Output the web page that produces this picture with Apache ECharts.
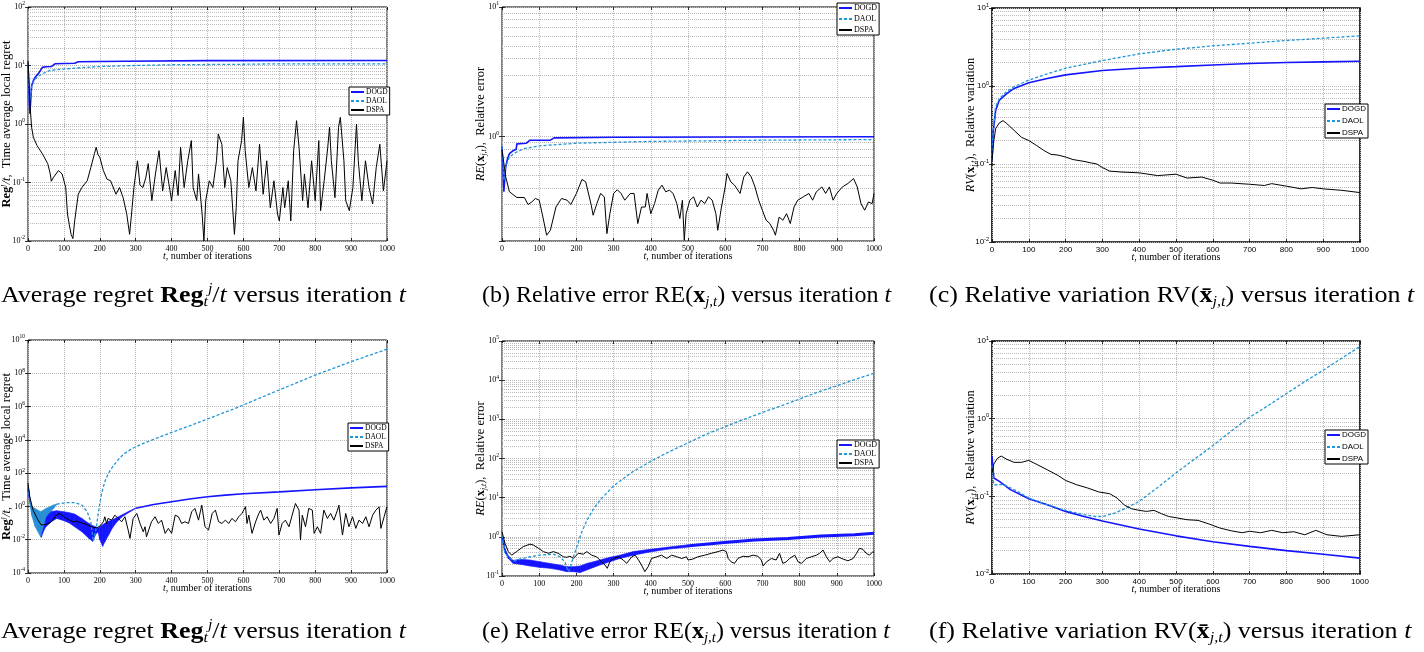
<!DOCTYPE html>
<html>
<head>
<meta charset="utf-8">
<script src="https://cdn.jsdelivr.net/npm/echarts@6/dist/echarts.min.js"></script>
<style>
  html, body { margin: 0; padding: 0; background: #fff; }
  #main { width: 1424px; height: 652px; }
</style>
</head>
<body>
<div id="main"></div>
<script>
// ---------------------------------------------------------------------
// data, [t, value]
var seriesNames = ['DOGD', 'DAOL', 'DSPA'];

// (a) time average local regret
var aDOGD = [[0,11],[3,3],[5,1.5],[8,2.8],[10,4.5],[15,5.5],[20,6.3],[25,6.8],[30,7.4],[35,7.6],[40,9.3],[50,9.5],[65,9.6],[70,10.2],[75,10.7],[100,10.8],[130,10.9],[140,11.6],[200,11.7],[270,11.8],[275,12],[500,12.1],[1000,12.2]];
var aDAOL = [[0,11],[3,4],[5,2.5],[8,3.2],[10,4.3],[15,5.2],[20,5.9],[30,6.6],[40,7.2],[60,8.2],[100,8.7],[150,9.2],[200,9.6],[300,10],[400,10.3],[600,10.5],[700,10.7],[1000,10.7]];
var aDSPA = [[0,12],[3,5],[6,2],[10,0.88],[15,0.59],[25,0.43],[40,0.31],[55,0.21],[62,0.14],[65,0.105],[70,0.12],[75,0.12],[85,0.16],[95,0.14],[100,0.14],[105,0.082],[110,0.029],[115,0.019],[120,0.013],[125,0.011],[130,0.022],[140,0.063],[150,0.082],[165,0.107],[175,0.18],[185,0.31],[190,0.4],[195,0.3],[200,0.27],[210,0.16],[220,0.114],[230,0.107],[245,0.063],[255,0.082],[265,0.055],[275,0.029],[283,0.013],[290,0.037],[295,0.082],[300,0.14],[305,0.235],[312,0.09],[320,0.082],[328,0.12],[335,0.21],[345,0.049],[355,0.14],[365,0.35],[375,0.072],[385,0.18],[400,0.049],[410,0.16],[418,0.06],[425,0.4],[435,0.082],[445,0.235],[455,0.52],[460,0.082],[470,0.049],[475,0.14],[485,0.029],[490,0.01],[495,0.049],[505,0.107],[515,0.082],[525,0.235],[530,0.67],[540,0.45],[548,0.082],[555,0.18],[565,0.107],[575,0.013],[580,0.037],[585,0.235],[595,0.52],[600,1.3],[605,0.35],[615,0.082],[625,0.18],[635,0.072],[645,0.45],[655,0.063],[665,0.235],[675,0.037],[685,0.107],[695,0.029],[700,0.022],[710,0.082],[715,0.037],[725,0.107],[732,0.022],[740,0.35],[748,1.14],[755,0.4],[765,0.049],[770,0.14],[780,0.037],[790,0.235],[800,0.049],[810,0.52],[815,0.033],[825,0.107],[835,0.4],[840,0.88],[845,0.235],[855,0.055],[865,0.88],[870,1.3],[880,0.235],[885,0.049],[895,0.033],[905,0.082],[915,1.0],[920,0.235],[930,0.049],[940,0.235],[950,0.082],[960,0.043],[970,0.18],[980,0.45],[990,0.072],[1000,0.235]];

// (b) relative error
var bDOGD = [[0,0.84],[3,0.55],[5,0.376],[8,0.5],[10,0.59],[15,0.68],[20,0.74],[30,0.78],[38,0.8],[40,0.88],[65,0.89],[75,0.94],[130,0.94],[140,0.98],[300,0.99],[1000,1.0]];
var bDAOL = [[0,0.84],[3,0.6],[5,0.46],[8,0.53],[10,0.59],[20,0.7],[40,0.765],[60,0.81],[100,0.85],[200,0.89],[400,0.92],[700,0.94],[1000,0.95]];
var bDSPA = [[0,0.79],[10,0.49],[20,0.376],[40,0.34],[60,0.34],[70,0.3],[80,0.314],[90,0.334],[100,0.324],[110,0.24],[120,0.174],[130,0.19],[145,0.287],[160,0.334],[175,0.324],[185,0.3],[200,0.365],[215,0.468],[225,0.449],[240,0.296],[245,0.248],[255,0.305],[265,0.365],[275,0.344],[282,0.179],[290,0.255],[300,0.365],[310,0.39],[320,0.365],[330,0.324],[345,0.365],[355,0.365],[365,0.214],[375,0.287],[385,0.287],[390,0.365],[400,0.255],[410,0.305],[420,0.387],[430,0.423],[440,0.376],[450,0.387],[460,0.365],[470,0.305],[478,0.234],[485,0.324],[490,0.159],[495,0.255],[505,0.324],[515,0.344],[525,0.287],[535,0.324],[545,0.305],[555,0.344],[565,0.324],[575,0.255],[580,0.19],[590,0.287],[600,0.41],[605,0.52],[615,0.449],[625,0.423],[640,0.365],[650,0.49],[660,0.536],[670,0.49],[680,0.41],[690,0.324],[700,0.271],[710,0.227],[720,0.214],[730,0.19],[735,0.174],[745,0.24],[755,0.227],[765,0.255],[775,0.214],[785,0.287],[795,0.324],[810,0.344],[825,0.365],[835,0.324],[845,0.376],[860,0.41],[870,0.365],[880,0.41],[890,0.324],[900,0.365],[915,0.41],[930,0.436],[945,0.476],[955,0.41],[965,0.305],[975,0.271],[985,0.314],[995,0.305],[1000,0.365]];

// (c) relative variation
var cDOGD = [[0,0.11],[3,0.25],[10,0.49],[20,0.66],[40,0.8],[60,0.93],[100,1.1],[150,1.25],[200,1.39],[300,1.58],[400,1.69],[500,1.77],[600,1.86],[700,1.94],[800,2.0],[900,2.04],[1000,2.08]];
var cDAOL = [[0,0.11],[3,0.27],[10,0.54],[20,0.69],[40,0.85],[60,0.98],[100,1.19],[150,1.43],[200,1.69],[300,2.12],[400,2.58],[500,2.96],[600,3.27],[700,3.54],[800,3.83],[900,4.1],[1000,4.4]];
var cDSPA = [[0,0.11],[5,0.2],[10,0.285],[20,0.337],[30,0.36],[40,0.33],[60,0.27],[80,0.22],[100,0.2],[120,0.174],[140,0.15],[160,0.133],[180,0.13],[200,0.123],[220,0.114],[250,0.108],[270,0.103],[285,0.1],[300,0.09],[320,0.081],[350,0.079],[400,0.077],[450,0.071],[500,0.074],[530,0.066],[570,0.068],[600,0.062],[620,0.057],[650,0.057],[700,0.055],[740,0.053],[760,0.056],[800,0.052],[840,0.048],[870,0.05],[900,0.048],[950,0.046],[1000,0.043]];

// (d) regret, second case. bands are [t, low, high]
var dDOGDhead = [[0,15],[5,2.4],[10,0.8]];
var dDOGDband = [[10,0.6,1.0],[20,0.15,0.6],[30,0.04,0.35],[37,0.014,0.3],[45,0.04,0.35],[50,0.06,0.42],[65,0.12,0.5],[80,0.19,0.55],[100,0.14,0.48],[115,0.1,0.42],[130,0.06,0.35],[150,0.03,0.19],[170,0.012,0.095],[180,0.008,0.07],[188,0.02,0.06],[195,0.03,0.05],[200,0.01,0.06],[208,0.004,0.08],[215,0.008,0.1],[225,0.02,0.13],[235,0.05,0.16],[245,0.1,0.2],[260,0.22,0.3],[280,0.42,0.5],[300,0.75,0.8]];
var dDOGDtail = [[300,0.78],[350,1.3],[400,1.9],[450,2.8],[500,3.8],[550,4.8],[600,5.8],[700,7.5],[800,10],[900,13],[1000,16]];
var dDAOLhead = [[0,15],[5,2]];
var dDAOLband = [[5,1.5,2.5],[10,0.3,1.0],[20,0.06,0.75],[35,0.015,0.48],[50,0.24,0.75],[70,0.7,1.2],[80,1.3,1.4]];
var dDAOLtail = [[80,1.35],[90,1.5],[110,1.7],[130,1.7],[150,1.2],[165,0.48],[175,0.12],[182,0.008],[186,0.01],[190,0.05],[195,0.3],[200,1.5],[205,6],[210,15],[215,35],[222,80],[230,160],[240,320],[255,800],[270,1600],[290,3000],[320,6000],[360,1.3e4],[400,2.8e4],[450,7e4],[500,1.8e5],[572,7e5],[700,1e7],[795,7e7],[900,5e8],[1000,2.8e9]];
var dDSPA = [[0,25],[5,3.8],[14,0.6],[28,0.15],[37,0.076],[51,0.083],[65,0.12],[79,0.3],[88,0.38],[98,0.26],[107,0.19],[116,0.15],[125,0.12],[135,0.13],[144,0.11],[154,0.095],[163,0.083],[172,0.066],[182,0.055],[191,0.052],[200,0.066],[210,0.12],[214,0.24],[219,0.095],[223,0.19],[233,0.15],[242,0.3],[251,0.19],[261,0.12],[270,0.24],[279,0.038],[284,0.012],[293,0.19],[303,0.38],[312,0.095],[321,0.03],[326,0.06],[330,0.015],[344,0.12],[354,0.24],[363,0.095],[372,0.15],[382,0.024],[391,0.048],[400,0.024],[410,0.3],[419,0.24],[428,0.095],[437,0.12],[447,0.095],[456,0.48],[465,0.76],[475,0.15],[484,1.2],[489,1.5],[493,0.06],[503,0.038],[513,0.38],[522,0.6],[531,0.12],[540,0.095],[550,0.15],[559,0.095],[568,0.19],[578,0.12],[587,0.24],[596,0.38],[606,0.97],[610,0.095],[615,0.3],[624,0.024],[634,0.12],[643,0.38],[648,0.6],[657,0.15],[666,0.24],[676,0.095],[685,0.19],[694,0.76],[699,0.019],[708,0.095],[717,0.15],[727,0.06],[741,0.76],[745,1.5],[755,0.6],[759,0.0095],[764,0.3],[773,0.06],[782,0.76],[792,0.6],[797,0.024],[806,0.06],[815,0.024],[824,0.6],[834,0.19],[843,0.38],[852,0.15],[862,0.6],[866,1.2],[876,0.019],[885,0.38],[894,0.06],[904,0.24],[913,0.048],[922,0.15],[932,0.095],[941,0.24],[950,0.06],[960,0.3],[969,0.6],[978,0.95],[983,0.048],[992,0.24],[997,0.6],[1000,1.0]];

// (e) relative error, second case
var eDOGDhead = [[0,1.0],[5,0.62]];
var eDOGDband = [[5,0.5,0.75],[8,0.4,0.5],[17,0.28,0.33],[30,0.21,0.25],[48,0.2,0.266],[75,0.18,0.256],[102,0.166,0.232],[129,0.157,0.21],[156,0.142,0.19],[174,0.129,0.173],[192,0.129,0.173],[210,0.122,0.18],[228,0.142,0.21],[246,0.166,0.232],[263,0.19,0.256],[290,0.232,0.3],[317,0.28,0.34],[353,0.34,0.42],[398,0.41,0.48],[443,0.48,0.54],[496,0.54,0.62]];
var eDOGDtail = [[496,0.58],[590,0.71],[679,0.83],[769,0.91],[858,1.05],[948,1.13],[1000,1.23]];
var eDAOL = [[0,1.1],[8,0.38],[22,0.28],[35,0.24],[48,0.27],[75,0.31],[102,0.34],[120,0.35],[138,0.36],[156,0.31],[169,0.23],[178,0.13],[183,0.16],[192,0.31],[201,0.56],[214,1.3],[228,2.6],[245,5],[265,9],[300,20],[350,45],[400,85],[450,150],[500,250],[550,420],[600,650],[650,1000],[700,1500],[750,2200],[800,3300],[850,5000],[900,7200],[950,10500],[1000,15000]];
var eDSPA = [[0,1.35],[8,0.68],[17,0.42],[26,0.34],[39,0.42],[57,0.56],[75,0.65],[84,0.62],[98,0.51],[111,0.42],[125,0.38],[138,0.42],[151,0.38],[165,0.31],[174,0.3],[183,0.32],[192,0.28],[205,0.38],[219,0.36],[228,0.42],[241,0.34],[254,0.31],[268,0.23],[277,0.19],[283,0.157],[290,0.23],[299,0.28],[313,0.31],[326,0.256],[335,0.21],[349,0.31],[358,0.34],[367,0.256],[375,0.19],[384,0.129],[393,0.173],[402,0.28],[416,0.31],[429,0.34],[443,0.28],[456,0.34],[470,0.31],[483,0.28],[496,0.31],[500,0.256],[513,0.27],[527,0.31],[545,0.34],[563,0.38],[581,0.42],[594,0.46],[603,0.42],[608,0.28],[616,0.23],[625,0.21],[634,0.28],[648,0.32],[661,0.31],[675,0.34],[688,0.32],[697,0.256],[702,0.18],[711,0.23],[724,0.28],[737,0.256],[746,0.38],[755,0.21],[764,0.23],[773,0.28],[787,0.34],[796,0.23],[805,0.21],[818,0.28],[832,0.31],[845,0.34],[854,0.38],[863,0.46],[872,0.31],[881,0.23],[890,0.28],[903,0.31],[917,0.27],[930,0.245],[944,0.28],[953,0.38],[961,0.51],[970,0.48],[979,0.38],[988,0.34],[997,0.42],[1000,0.4]];

// (f) relative variation, second case
var fDOGD = [[0,0.33],[5,0.172],[20,0.156],[50,0.122],[100,0.093],[150,0.078],[200,0.064],[250,0.055],[300,0.048],[400,0.038],[500,0.031],[600,0.026],[700,0.0227],[800,0.02],[900,0.018],[1000,0.016]];
var fDAOL = [[0,0.25],[5,0.141],[20,0.141],[30,0.143],[60,0.122],[100,0.095],[150,0.078],[200,0.066],[250,0.058],[280,0.055],[300,0.055],[330,0.06],[360,0.069],[400,0.086],[450,0.13],[500,0.2],[550,0.3],[600,0.45],[650,0.69],[694,1.0],[750,1.47],[800,2.1],[850,3.0],[900,4.2],[950,6.0],[1000,8.5]];
var fDSPA = [[0,0.2],[5,0.26],[15,0.31],[25,0.33],[40,0.3],[60,0.274],[80,0.274],[100,0.29],[120,0.26],[150,0.22],[180,0.185],[200,0.16],[230,0.141],[260,0.128],[290,0.114],[320,0.108],[340,0.095],[360,0.077],[380,0.069],[400,0.066],[420,0.064],[440,0.066],[460,0.06],[480,0.055],[500,0.053],[530,0.05],[560,0.049],[590,0.044],[620,0.039],[650,0.036],[680,0.034],[700,0.0355],[730,0.034],[760,0.0365],[790,0.034],[820,0.035],[850,0.032],[880,0.0365],[910,0.032],[950,0.0305],[1000,0.032]];

(function(){
  'use strict';

  var serif = 'Liberation Serif';
  var sans = 'Liberation Sans';
  var gridColor = '#b9b9b9';

  // 线型: DOGD / DAOL / DSPA
  var styles = [
    { color: '#1414ff', width: 1.6, type: 'solid' },
    { color: '#1f96d8', width: 1.3, type: [3, 2] },
    { color: '#000000', width: 1, type: 'solid' }
  ];
  var bandColors = ['#1414ff', '#2a8fd4'];

  var nameReg = '{b|Reg}{sup|j}{i|/t}{n|,  Time average local regret}';
  var nameRE = '{i|RE}{n|(}{b|x}{sub|j,t}{n|),  Relative error}';
  var nameRV = '{i|RV}{n|(}{b|x}{sub|j,t}{n|),  Relative variation}';
  var nameT = '{i|t}{n|, number of iterations}';

  // 各子图的布局
  var panels = [
    { grid: { left: 28, top: 7, width: 359, height: 234 }, yMin: 0.01, yMax: 100, logBase: 10, minor: true,
      tick: serif, legendFont: serif, yName: nameReg, frame: 1,
      legend: { left: 349, top: 87, gap: 1, size: 7.5 },
      lines: [[aDOGD, 0], [aDAOL, 1], [aDSPA, 2]], bands: [] },
    { grid: { left: 502, top: 7, width: 372, height: 234 }, yMin: 0.157, yMax: 10, logBase: 10, minor: true,
      tick: serif, legendFont: serif, yName: nameRE, frame: 1,
      legend: { left: 837, top: 3, gap: 3, size: 8 },
      lines: [[bDOGD, 0], [bDAOL, 1], [bDSPA, 2]], bands: [] },
    { grid: { left: 992, top: 8, width: 368, height: 234 }, yMin: 0.01, yMax: 10, logBase: 10, minor: true,
      tick: sans, legendFont: sans, yName: nameRV, frame: 1.6,
      legend: { left: 1325, top: 104, gap: 4, size: 8 },
      lines: [[cDOGD, 0], [cDAOL, 1], [cDSPA, 2]], bands: [] },
    { grid: { left: 28, top: 340, width: 359, height: 233 }, yMin: 1e-4, yMax: 1e10, logBase: 100, minor: false,
      tick: serif, legendFont: serif, yName: nameReg, frame: 1,
      legend: { left: 348, top: 423, gap: 1, size: 7.5 },
      lines: [[dDOGDhead, 0], [dDOGDtail, 0], [dDAOLhead, 1], [dDAOLtail, 1], [dDSPA, 2]],
      bands: [[dDOGDband, 0], [dDAOLband, 1]] },
    { grid: { left: 502, top: 341, width: 372, height: 235 }, yMin: 0.1, yMax: 1e5, logBase: 10, minor: true,
      tick: serif, legendFont: serif, yName: nameRE, frame: 1,
      legend: { left: 837, top: 440, gap: 1, size: 8 },
      lines: [[eDOGDhead, 0], [eDOGDtail, 0, 3], [eDAOL, 1], [eDSPA, 2]],
      bands: [[eDOGDband, 0]] },
    { grid: { left: 992, top: 341, width: 368, height: 233 }, yMin: 0.01, yMax: 10, logBase: 10, minor: true,
      tick: sans, legendFont: sans, yName: nameRV, frame: 1.6,
      legend: { left: 1325, top: 430, gap: 4, size: 8 },
      lines: [[fDOGD, 0], [fDAOL, 1], [fDSPA, 2]], bands: [] }
  ];

  var captions = [
    { x: 1, y: 296, sx: 1.08, text: '{n|Average regret }{b|Reg}{sub|t}{sup|j}{n|/}{i|t}{n| versus iteration }{i|t}' },
    { x: 482, y: 296, sx: 1.0, text: '{n|(b) Relative error RE(}{b|x}{sub|j,t}{n|) versus iteration }{i|t}' },
    { x: 929, y: 296, sx: 1.085, text: '{n|(c) Relative variation RV(}{b|x\u0304}{sub|j,t}{n|) versus iteration }{i|t}' },
    { x: 1, y: 632, sx: 1.08, text: '{n|Average regret }{b|Reg}{sub|t}{sup|j}{n|/}{i|t}{n| versus iteration }{i|t}' },
    { x: 482, y: 632, sx: 1.0, text: '{n|(e) Relative error RE(}{b|x}{sub|j,t}{n|) versus iteration }{i|t}' },
    { x: 929, y: 632, sx: 1.085, text: '{n|(f) Relative variation RV(}{b|x\u0304}{sub|j,t}{n|) versus iteration }{i|t}' }
  ];

  function mathRich(size, family) {
    var s = size * 0.62;
    return {
      n: { fontSize: size, fontFamily: family, color: '#000', fill: '#000' },
      i: { fontSize: size, fontFamily: family, fontStyle: 'italic', color: '#000', fill: '#000' },
      b: { fontSize: size, fontFamily: family, fontWeight: 'bold', color: '#000', fill: '#000' },
      sub: { fontSize: s, fontFamily: family, fontStyle: 'italic', color: '#000', fill: '#000', padding: [size * 0.5, 0, 0, 0] },
      sup: { fontSize: s, fontFamily: family, fontStyle: 'italic', color: '#000', fill: '#000', padding: [0, 0, size * 0.55, 0] }
    };
  }

  function powLabel(v) {
    var e = Math.log(v) / Math.LN10;
    var r = Math.round(e);
    if (Math.abs(e - r) > 1e-6) return '';
    return '{m|10}{e|' + r + '}';
  }

  // 2..9 x 10^k 的次网格线
  function minorMarks(lo, hi) {
    var out = [];
    var e0 = Math.floor(Math.log(lo) / Math.LN10 + 1e-9);
    var e1 = Math.ceil(Math.log(hi) / Math.LN10 - 1e-9);
    for (var e = e0; e < e1; e++) {
      for (var m = 2; m <= 9; m++) {
        var v = m * Math.pow(10, e);
        if (v > lo * 1.0001 && v < hi * 0.9999) out.push({ yAxis: v });
      }
    }
    return out;
  }

  var grids = [], xAxes = [], yAxes = [], legends = [], series = [];

  panels.forEach(function (p, i) {
    var g = p.grid;
    grids.push({ left: g.left, top: g.top, width: g.width, height: g.height, show: true,
      borderColor: '#000', borderWidth: p.frame, backgroundColor: 'transparent',
      containLabel: false, outerBoundsMode: 'none' });

    var tickStyle = { inside: true, length: 3, lineStyle: { color: '#000', width: 0.8 } };
    var split = { show: true, lineStyle: { type: 'dotted', color: gridColor, width: 1 } };

    xAxes.push({
      type: 'value', gridIndex: i, min: 0, max: 1000, interval: 100, position: 'bottom',
      name: nameT, nameLocation: 'middle', nameGap: 10, nameMoveOverlap: false,
      nameTextStyle: { rich: mathRich(10, serif) },
      axisLine: { show: false }, axisTick: tickStyle, splitLine: split,
      axisLabel: { fontSize: 8, fontFamily: p.tick, color: '#000', margin: 4,
        formatter: function (v) { return String(v); } }
    });
    xAxes.push({
      type: 'value', gridIndex: i, min: 0, max: 1000, interval: 100, position: 'top',
      axisLine: { show: false }, axisTick: tickStyle, splitLine: { show: false }, axisLabel: { show: false }
    });

    var labelRich = {
      m: { fontSize: 8, fontFamily: p.tick, color: '#000' },
      e: { fontSize: 5.5, fontFamily: p.tick, color: '#000', padding: [0, 0, 6, 0] }
    };
    yAxes.push({
      type: 'log', logBase: p.logBase, gridIndex: i, min: p.yMin, max: p.yMax, position: 'left',
      name: p.yName, nameLocation: 'middle', nameRotate: 90, nameGap: 14, nameMoveOverlap: false,
      nameTextStyle: { rich: mathRich(12.5, serif) },
      axisLine: { show: false }, axisTick: tickStyle, splitLine: split,
      axisLabel: { formatter: powLabel, rich: labelRich, margin: 3 }
    });
    yAxes.push({
      type: 'log', logBase: p.logBase, gridIndex: i, min: p.yMin, max: p.yMax, position: 'right',
      axisLine: { show: false }, axisTick: tickStyle, splitLine: { show: false }, axisLabel: { show: false }
    });

    legends.push({
      data: seriesNames, orient: 'vertical', left: p.legend.left, top: p.legend.top,
      itemWidth: 13, itemHeight: 8, itemGap: p.legend.gap, padding: [1, 2, 1, 1],
      borderColor: '#000', borderWidth: 1, borderRadius: 0, backgroundColor: '#fff',
      itemStyle: { opacity: 0 },
      selectedMode: false,
      textStyle: { fontFamily: p.legendFont, fontSize: p.legend.size, color: '#000', padding: [0, 0, 0, -3] }
    });

    p.bands.forEach(function (bd) {
      var band = bd[0], color = bandColors[bd[1]];
      series.push({
        name: seriesNames[bd[1]] + ' band', type: 'custom', xAxisIndex: 2 * i, yAxisIndex: 2 * i,
        data: band, encode: { x: 0, y: [1, 2] }, silent: true, z: 3 + bd[1], animation: false,
        renderItem: function (params, api) {
          var k = params.dataIndex;
          if (k >= band.length - 1) return null;
          var a = band[k], b = band[k + 1];
          return {
            type: 'polygon',
            shape: { points: [api.coord([a[0], a[2]]), api.coord([b[0], b[2]]), api.coord([b[0], b[1]]), api.coord([a[0], a[1]])] },
            style: { fill: color, stroke: color, lineWidth: 0.6 }
          };
        }
      });
    });

    p.lines.forEach(function (ln) {
      var st = styles[ln[1]];
      var s = {
        name: seriesNames[ln[1]], type: 'line', xAxisIndex: 2 * i, yAxisIndex: 2 * i,
        data: ln[0], symbol: 'none', showSymbol: false, silent: true, animation: false,
        lineStyle: { color: st.color, width: ln[2] || st.width, type: st.type },
        itemStyle: { color: st.color }, z: 3 + ln[1]
      };
      if (ln[1] === 2 && p.minor) {
        s.markLine = {
          silent: true, symbol: ['none', 'none'], z: 1, animation: false,
          label: { show: false }, emphasis: { disabled: true },
          lineStyle: { type: 'dotted', color: gridColor, width: 1 },
          data: minorMarks(p.yMin, p.yMax)
        };
      }
      series.push(s);
    });
  });

  var myChart = echarts.init(document.getElementById('main'), null, { renderer: 'canvas' });

  var option = {
    backgroundColor: '#fff',
    animation: false,
    grid: grids,
    xAxis: xAxes,
    yAxis: yAxes,
    legend: legends,
    series: series,
    graphic: captions.map(function (c) {
      return {
        type: 'text', x: c.x, y: c.y, scaleX: c.sx, silent: true,
        style: { text: c.text, rich: mathRich(24, serif), fontSize: 24, fontFamily: serif, fill: '#000', verticalAlign: 'middle' }
      };
    })
  };

  myChart.setOption(option);
}());
</script>
</body>
</html>
